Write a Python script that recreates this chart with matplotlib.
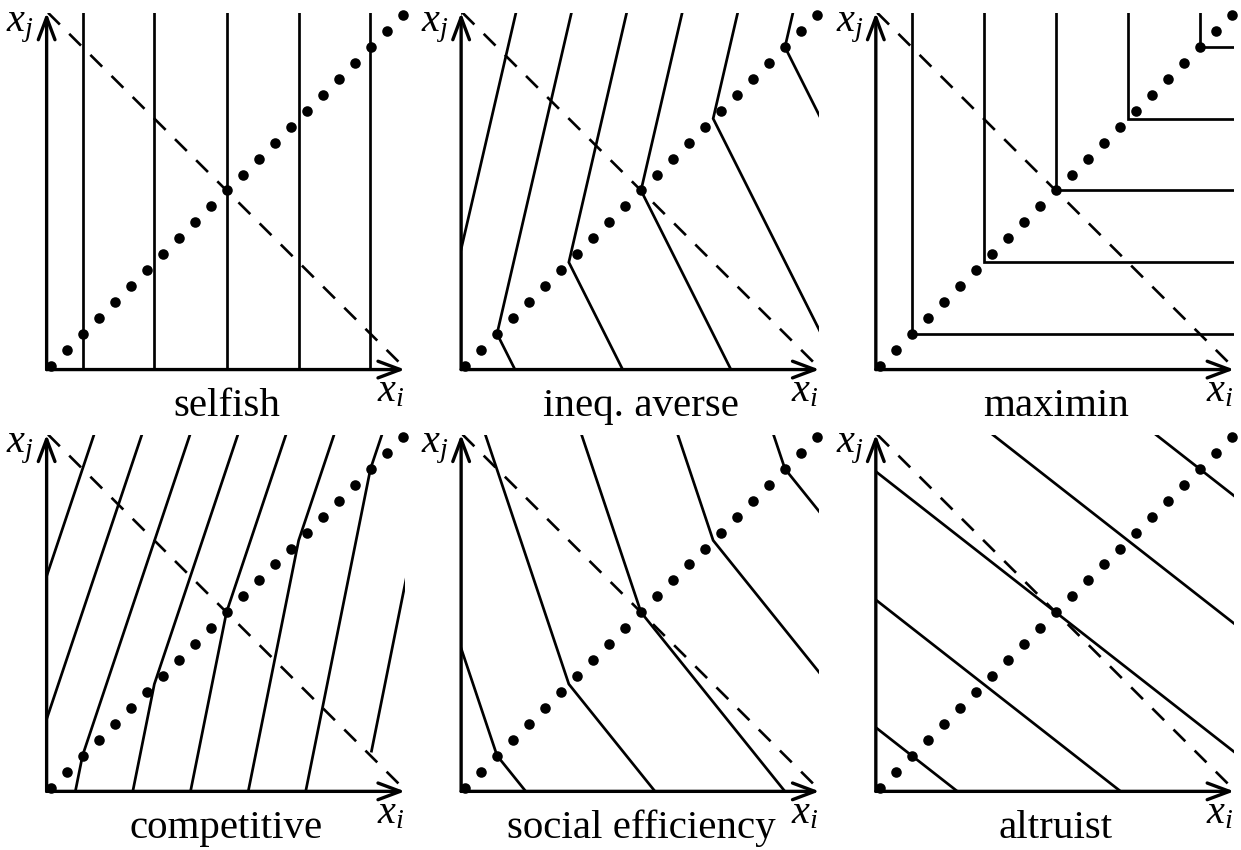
import numpy as np
import matplotlib
matplotlib.use("Agg")
import matplotlib.pyplot as plt
from matplotlib.patches import FancyArrowPatch

# Social value orientations: indifference curves in the (x_i, x_j) payoff plane.
panel_names = ["selfish", "ineq. averse", "maximin",
               "competitive", "social efficiency", "altruist"]

# Utility u = w_i * x_i + w_j * x_j, with separate weights above (x_j > x_i)
# and below (x_j < x_i) the equal-split diagonal.  Weights sum to one, so a
# curve of level c crosses the diagonal at (c, c).
weights_above = [(1.0, 0.0), (1.3, -0.3), (1.0, 0.0),
                 (1.5, -0.5), (0.75, 0.25), (0.44, 0.56)]
weights_below = [(1.0, 0.0), (2 / 3, 1 / 3), (0.0, 1.0),
                 (1.25, -0.25), (5 / 9, 4 / 9), (0.44, 0.56)]

# Utility levels of the drawn indifference curves
levels = [-0.318, -0.114, 0.091, 0.295, 0.5, 0.705, 0.909, 1.114]

# One curve in the competitive panel is only drawn above x_j = 0.10
partial_panel = "competitive"
partial_level = 1.114
partial_from_xj = 0.10

# Equal splits along the diagonal and the budget line x_i + x_j = 1
n_splits = 23
budget = 1.0

plt.rcParams["mathtext.fontset"] = "custom"
plt.rcParams["mathtext.rm"] = "Liberation Serif"
plt.rcParams["mathtext.it"] = "Liberation Serif:italic"
plt.rcParams["lines.scale_dashes"] = False

W, H = 1241, 850
fig = plt.figure(figsize=(W / 100, H / 100), dpi=100)

sx, sy = 352.0, 350.5          # pixels per payoff unit
lo, hi = -0.011, 1.007         # drawing region (axis lines sit at lo)
col_x = [50.5, 465.0, 879.7]   # pixel position of the origin
row_y = [365.7, 787.5]

splits = np.linspace(0.0, 1.0, n_splits)


def curve(c, w_up, w_low, xj_floor=None):
    """Polyline of a piecewise-linear indifference curve through (c, c)."""
    d_up = np.array([-w_up[1], w_up[0]])
    d_low = np.array([w_low[1], -w_low[0]])
    k = np.array([c, c])
    t_low = 5.0
    if xj_floor is not None and d_low[1] < 0:
        t_low = (c - xj_floor) / -d_low[1]
    p0 = k + t_low * d_low
    p2 = k + 5.0 * d_up
    return [p0[0], c, p2[0]], [p0[1], c, p2[1]]


for n, name in enumerate(panel_names):
    r, cidx = divmod(n, 3)
    ox, oy = col_x[cidx], row_y[r]
    ax = fig.add_axes([(ox + lo * sx) / W,
                       1 - (oy - lo * sy) / H,
                       (hi - lo) * sx / W,
                       (hi - lo) * sy / H])
    ax.set_xlim(lo, hi)
    ax.set_ylim(lo, hi)
    ax.axis("off")

    for c in levels:
        floor = None
        if name == partial_panel and c == partial_level:
            floor = partial_from_xj
        xs, ys = curve(c, weights_above[n], weights_below[n], floor)
        ax.plot(xs, ys, color="black", lw=1.95, solid_joinstyle="miter",
                solid_capstyle="butt", zorder=2)

    # budget line
    bx = np.array([lo + 0.004, hi])
    ax.plot(bx, budget - bx, color="black", lw=1.9, dashes=(12.0, 9.5),
            zorder=2)

    # equal splits
    ax.plot(splits, splits, "o", color="black", ms=7.6, mew=0,
            clip_on=False, zorder=5)

    # axes with arrow heads
    for end in [(hi, lo), (lo, hi)]:
        arr = FancyArrowPatch((lo, lo), end,
                              arrowstyle="->,head_length=0.8,head_width=0.3",
                              mutation_scale=20, lw=2.4, color="black",
                              shrinkA=0, shrinkB=0, clip_on=False, zorder=4)
        ax.add_patch(arr)

    ax.text(-0.047, 0.955, r"$x_j$", fontsize=29, ha="right", va="baseline")
    ax.text(1.004, -0.101, r"$x_i$", fontsize=29, ha="right", va="baseline")
    ax.text(0.5, -0.143, name, fontsize=29.5, family="Liberation Serif",
            ha="center", va="baseline")

fig.savefig("out.png", dpi=100)
